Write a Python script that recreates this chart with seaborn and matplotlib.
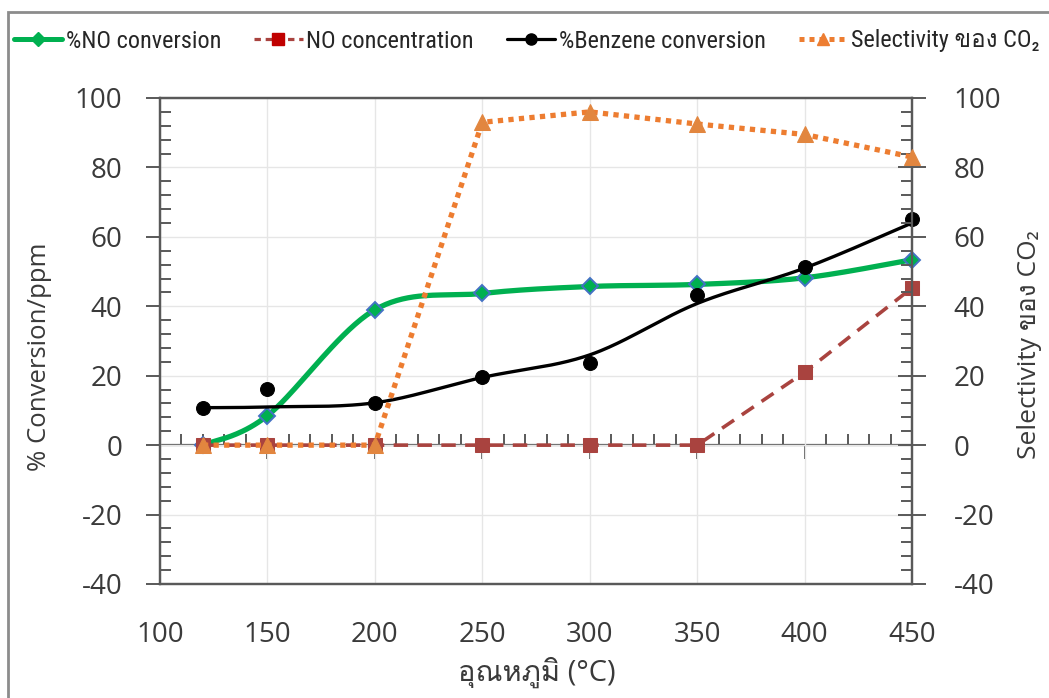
import numpy as np
import matplotlib
matplotlib.use("Agg")
import matplotlib.pyplot as plt
import seaborn as sns
from matplotlib import font_manager
from matplotlib.lines import Line2D
from matplotlib.patches import Rectangle
from matplotlib.ticker import MultipleLocator

# ---- data -------------------------------------------------------------
temps = [120, 150, 200, 250, 300, 350, 400, 450]
no_conversion = [0.0, 8.5, 39.0, 43.7, 45.7, 46.3, 48.2, 53.4]
no_concentration = [0.0, 0.0, 0.0, 0.0, 0.0, 0.0, 21.0, 45.3]
benzene_points = [10.8, 16.2, 12.2, 19.6, 23.6, 43.2, 51.3, 65.0]
benzene_curve = [10.8, 11.0, 12.2, 19.5, 26.0, 40.8, 51.0, 64.0]
co2_selectivity = [0.0, 0.0, 0.0, 93.0, 96.0, 92.5, 89.5, 83.0]

x_ticks = [100, 150, 200, 250, 300, 350, 400, 450]
y_ticks = [-40, -20, 0, 20, 40, 60, 80, 100]

labels = ["%NO conversion", "NO concentration", "%Benzene conversion",
          "Selectivity ของ CO₂"]
x_title = "อุณหภูมิ (°C)"
y_title = "% Conversion/ppm"
y2_title = "Selectivity ของ CO₂"


# ---- fonts ------------------------------------------------------------
def available(name):
    try:
        font_manager.findfont(font_manager.FontProperties(family=name),
                              fallback_to_default=False)
        return True
    except Exception:
        return False


def thai_family():
    try:
        from fontTools.ttLib import TTFont
    except Exception:
        return None
    for f in font_manager.fontManager.ttflist:
        try:
            cmap = TTFont(f.fname, fontNumber=0, lazy=True).getBestCmap()
        except Exception:
            continue
        if cmap and 0x0E2D in cmap and 0x0E39 in cmap:
            return f.name
    return None


main_font = next((f for f in ["Open Sans", "Noto Sans", "Lato", "DejaVu Sans"]
                  if available(f)), "DejaVu Sans")
narrow_font = next((f for f in ["Liberation Sans Narrow", "Roboto Condensed",
                                "Open Sans", "DejaVu Sans"] if available(f)),
                   "DejaVu Sans")
thai = thai_family()
fam_main = [main_font] + ([thai] if thai else []) + ["DejaVu Sans"]
fam_narrow = [narrow_font] + ([thai] if thai else []) + ["DejaVu Sans"]

sns.set_theme(style="white")
plt.rcParams["font.family"] = fam_main
plt.rcParams["axes.unicode_minus"] = False

TXT = "#3a3a3a"
AX = "#595959"
GRID = "#e6e6e6"
GREEN = "#00B050"
BLUE = "#4472C4"
RED = "#A9433F"
ORANGE = "#ED7D31"
ORANGE_M = "#E2863F"


# ---- smoothing (cubic Bezier through the nodes, like a smoothed chart line)
def smooth(xs, ys, n=40):
    p = np.column_stack([xs, ys]).astype(float)
    ext = np.vstack([p[0], p, p[-1]])
    out = []
    t = np.linspace(0, 1, n)[:, None]
    for i in range(len(p) - 1):
        p0, p1, p2, p3 = ext[i], ext[i + 1], ext[i + 2], ext[i + 3]
        c1 = p1 + (p2 - p0) / 6.0
        c2 = p2 - (p3 - p1) / 6.0
        seg = ((1 - t) ** 3) * p1 + 3 * ((1 - t) ** 2) * t * c1 \
            + 3 * (1 - t) * t ** 2 * c2 + t ** 3 * p2
        out.append(seg if i == 0 else seg[1:])
    s = np.vstack(out)
    return s[:, 0], s[:, 1]


# ---- figure -----------------------------------------------------------
fig = plt.figure(figsize=(10.49, 6.98), dpi=100)
ax = fig.add_axes([160 / 1049, 1 - 584 / 698, (912 - 160) / 1049, (584 - 98) / 698])
ax2 = ax.twinx()

ax.set_xlim(100, 450)
ax.set_ylim(-40, 100)
ax2.set_ylim(-40, 100)

# gridlines
ax.set_xticks(x_ticks)
ax.set_yticks(y_ticks)
ax.grid(True, color=GRID, lw=1.0)
ax.set_axisbelow(True)

# %NO conversion (smoothed)
gx, gy = smooth(temps, no_conversion)
sns.lineplot(x=gx, y=gy, ax=ax, color=GREEN, lw=3.8, sort=False, zorder=4,
             estimator=None, clip_on=False)
sns.lineplot(x=temps, y=no_conversion, ax=ax, color=GREEN, lw=0, marker="D",
             markersize=8, markerfacecolor=GREEN, markeredgecolor=BLUE,
             markeredgewidth=1.4, zorder=5, estimator=None, clip_on=False)

# NO concentration
sns.lineplot(x=temps, y=no_concentration, ax=ax, color=RED, lw=2.6,
             linestyle=(0, (4, 2.6)), marker="s", markersize=9.5,
             markerfacecolor=RED, markeredgecolor=RED, zorder=6,
             estimator=None, clip_on=False)

# %Benzene conversion (smoothed curve + measured points)
bx, by = smooth(temps, benzene_curve)
sns.lineplot(x=bx, y=by, ax=ax, color="black", lw=2.4, sort=False, zorder=7,
             estimator=None, clip_on=False)
sns.lineplot(x=temps, y=benzene_points, ax=ax, color="black", lw=0, marker="o",
             markersize=10, markerfacecolor="black", markeredgecolor="black",
             zorder=8, estimator=None, clip_on=False)

# Selectivity of CO2 on the secondary axis
sns.lineplot(x=temps, y=co2_selectivity, ax=ax2, color=ORANGE, lw=3.8,
             linestyle=(0, (1, 1)), marker="^", markersize=12,
             markerfacecolor=ORANGE_M, markeredgecolor=ORANGE_M, zorder=5,
             estimator=None, clip_on=False)
ax2.set_xlim(100, 450)

# ---- axes styling -----------------------------------------------------
for a in (ax, ax2):
    for sp in a.spines.values():
        sp.set_color(AX)
        sp.set_linewidth(1.6)
        sp.set_visible(True)
    a.set_xlabel("")
    a.set_ylabel("")

ax.yaxis.set_minor_locator(MultipleLocator(4))
ax.tick_params(axis="y", which="major", direction="out", length=10, width=1.4,
               color=AX, labelsize=20, labelcolor=TXT, pad=17, left=True)
ax.tick_params(axis="y", which="minor", direction="in", length=8, width=1.4,
               color=AX, left=True)
ax.tick_params(axis="x", which="both", length=0, labelsize=20, labelcolor=TXT,
               pad=27)

ax2.set_yticks(y_ticks)
ax2.yaxis.set_minor_locator(MultipleLocator(4))
ax2.tick_params(axis="y", which="major", direction="inout", length=20, width=1.4,
                color=AX, labelsize=20, labelcolor=TXT, pad=20, right=True)
ax2.tick_params(axis="y", which="minor", direction="in", length=8, width=1.4,
                color=AX, right=True)

# horizontal axis line crossing at zero
zero_ax = ax.secondary_xaxis(40 / 140)
zero_ax.set_xticks(x_ticks)
zero_ax.xaxis.set_minor_locator(MultipleLocator(10))
zero_ax.spines["bottom"].set_color(AX)
zero_ax.spines["bottom"].set_linewidth(1.6)
zero_ax.tick_params(axis="x", which="major", direction="out", length=10,
                    width=1.4, color=AX, labelbottom=False)
zero_ax.tick_params(axis="x", which="minor", direction="in", length=8,
                    width=1.4, color=AX)

# titles
fig.text(40 / 1049, 1 - 357 / 698, y_title, rotation=90, ha="center",
         va="center", fontsize=18.5, color=TXT, family=fam_main)
fig.text(1030 / 1049, 1 - 345 / 698, y2_title, rotation=90, ha="center",
         va="center", fontsize=19, color=TXT, family=fam_main)
fig.text(537 / 1049, 1 - 672 / 698, x_title, ha="center", va="center",
         fontsize=21, color=TXT, family=fam_main)

# legend
handles = [
    Line2D([], [], color=GREEN, lw=3.6, marker="D", markersize=7,
           markerfacecolor=GREEN, markeredgecolor=GREEN),
    Line2D([], [], color=RED, lw=2.3, linestyle=(0, (2, 1.5)), marker="s",
           markersize=8, markerfacecolor="#C00000", markeredgecolor="#C00000"),
    Line2D([], [], color="black", lw=2.3, marker="o", markersize=8,
           markerfacecolor="black", markeredgecolor="black"),
    Line2D([], [], color=ORANGE, lw=3.6, linestyle=(0, (1, 1)), marker="^",
           markersize=9, markerfacecolor=ORANGE, markeredgecolor=ORANGE),
]
leg = fig.legend(handles, labels, loc="center", bbox_to_anchor=(0.502, 1 - 41 / 698),
                 ncol=4, frameon=False, handlelength=2.0, handletextpad=0.15,
                 columnspacing=1.35, prop={"family": fam_narrow, "size": 17.5})
for t in leg.get_texts():
    t.set_color("#262626")

# outer chart border
fig.add_artist(Rectangle((8 / 1049, -0.1), 1.2, 1.1 - 12 / 698,
                         transform=fig.transFigure, fill=False,
                         edgecolor="#8c8c8c", lw=2.0))

fig.savefig("out.png", dpi=100, facecolor="white")
